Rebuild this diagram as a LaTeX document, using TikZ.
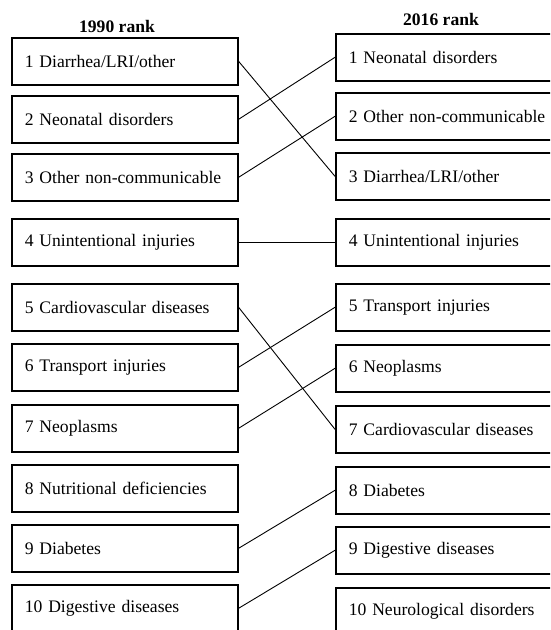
\documentclass[tikz,border=0pt]{standalone}
\usepackage{fontspec}
\setmainfont{Liberation Serif}
\begin{document}
\begin{tikzpicture}[x=1pt,y=-1pt,
  rankbox/.style={draw, line width=1.6pt, rectangle, anchor=north west,
    minimum width=226pt, minimum height=47pt, text width=200pt,
    inner xsep=13pt, inner ysep=0pt, align=left,
    font=\fontsize{17.6}{20}\selectfont},
  header/.style={font=\fontsize{17.6}{20}\selectfont\bfseries, inner sep=0pt},
  link/.style={line width=0.9pt}]
\useasboundingbox (0,0) rectangle (550,630);
\clip (0,0) rectangle (550,630);
\fill[white] (0,0) rectangle (550,630);

\node[header] (h1) at (117,26) {1990 rank};
\node[header] (h2) at (441,19) {2016 rank};

\node[rankbox] (l1) at (11,37) {1 Diarrhea/LRI/other};
\node[rankbox] (l2) at (11,95) {2 Neonatal disorders};
\node[rankbox] (l3) at (11,153) {3 Other non-communicable};
\node[rankbox] (l4) at (11,218) {4 Unintentional injuries};
\node[rankbox] (l5) at (11,283) {5 Cardiovascular diseases};
\node[rankbox] (l6) at (11,343) {6 Transport injuries};
\node[rankbox] (l7) at (11,404) {7 Neoplasms};
\node[rankbox] (l8) at (11,464) {8 Nutritional deficiencies};
\node[rankbox] (l9) at (11,524) {9 Diabetes};
\node[rankbox] (l10) at (11,584) {10 Digestive diseases};

\node[rankbox] (r1) at (335,33) {1 Neonatal disorders};
\node[rankbox] (r2) at (335,92) {2 Other non-communicable};
\node[rankbox] (r3) at (335,152) {3 Diarrhea/LRI/other};
\node[rankbox] (r4) at (335,218) {4 Unintentional injuries};
\node[rankbox] (r5) at (335,283) {5 Transport injuries};
\node[rankbox] (r6) at (335,344) {6 Neoplasms};
\node[rankbox] (r7) at (335,405) {7 Cardiovascular diseases};
\node[rankbox] (r8) at (335,466) {8 Diabetes};
\node[rankbox] (r9) at (335,526) {9 Digestive diseases};
\node[rankbox] (r10) at (335,587) {10 Neurological disorders};

\draw[link] (l1.east) -- (r3.west);
\draw[link] (l2.east) -- (r1.west);
\draw[link] (l3.east) -- (r2.west);
\draw[link] (l4.east) -- (r4.west);
\draw[link] (l5.east) -- (r7.west);
\draw[link] (l6.east) -- (r5.west);
\draw[link] (l7.east) -- (r6.west);
\draw[link] (l9.east) -- (r8.west);
\draw[link] (l10.east) -- (r9.west);
\end{tikzpicture}
\end{document}
